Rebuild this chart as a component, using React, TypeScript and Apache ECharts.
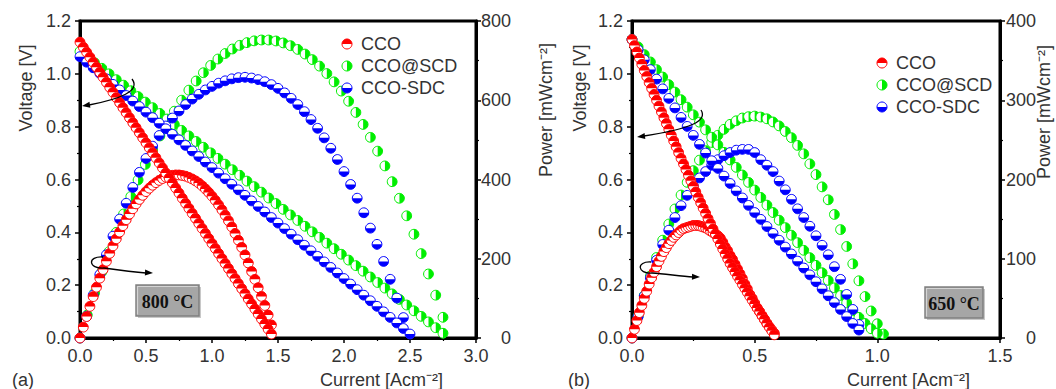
import React, { useEffect, useRef } from "react";
import * as echarts from "echarts";

// ---------- Panel (a) 800 °C ----------
const aRedCurrent = [0,0.025,0.05,0.075,0.1,0.125,0.15,0.175,0.2,0.225,0.25,0.275,0.3,0.325,0.35,0.375,0.4,0.425,0.45,0.475,0.5,0.525,0.55,0.575,0.6,0.625,0.65,0.675,0.7,0.725,0.75,0.775,0.8,0.825,0.85,0.875,0.9,0.925,0.95,0.975,1,1.025,1.05,1.075,1.1,1.125,1.15,1.175,1.2,1.225,1.25,1.275,1.3,1.325,1.35,1.375,1.4,1.425,1.45];
const aRedVoltage = [1.120,1.101,1.082,1.063,1.044,1.025,1.006,0.987,0.968,0.949,0.930,0.910,0.891,0.872,0.853,0.834,0.815,0.796,0.777,0.758,0.739,0.720,0.701,0.682,0.663,0.644,0.625,0.606,0.587,0.568,0.549,0.529,0.510,0.491,0.472,0.453,0.434,0.415,0.396,0.377,0.358,0.339,0.320,0.301,0.282,0.263,0.244,0.225,0.206,0.187,0.168,0.148,0.129,0.110,0.091,0.072,0.053,0.034,0.015];
const aRedPower = [0,27.5,54.1,79.7,104.4,128.1,150.9,172.7,193.6,213.5,232.5,250.3,267.4,283.5,298.6,312.8,326.1,338.4,349.7,360.0,369.5,378.0,385.5,392.0,397.7,402.4,406.0,408.8,410.6,411.5,411.4,410.2,408.3,405.1,401.3,396.6,391.0,384.1,376.2,367.5,358.0,347.5,336.0,323.6,310.0,295.8,280.4,263.9,246.7,228.8,209.5,189.2,167.8,148,127,105,82,58,33];

const aGreenCurrent = [0,0.055,0.11,0.165,0.22,0.275,0.33,0.385,0.44,0.495,0.55,0.605,0.66,0.715,0.77,0.825,0.88,0.935,0.99,1.045,1.1,1.155,1.21,1.265,1.32,1.375,1.43,1.485,1.54,1.595,1.65,1.705,1.76,1.815,1.87,1.925,1.98,2.035,2.09,2.145,2.2,2.255,2.31,2.365,2.42,2.475,2.53,2.585,2.64,2.695,2.75];
const aGreenVoltage = [1.085,1.064,1.042,1.021,1.000,0.978,0.957,0.936,0.914,0.893,0.872,0.850,0.829,0.808,0.786,0.765,0.744,0.722,0.701,0.680,0.658,0.637,0.616,0.594,0.573,0.552,0.530,0.509,0.487,0.466,0.445,0.423,0.402,0.381,0.359,0.338,0.317,0.295,0.274,0.253,0.231,0.210,0.189,0.167,0.146,0.125,0.103,0.082,0.061,0.039,0.018];
const aGreenPower = [0,58.0,113.6,166.9,217.9,266.6,312.9,357.0,398.7,438.0,475.1,509.8,542.2,572.3,600.1,625.5,648.6,669.5,687.9,704.0,717.9,729.4,738.6,745.4,749.9,752.1,752.0,749.6,744.7,737.7,728.3,716.6,702.6,686.1,667.4,646.4,623.1,597.5,569.3,539.0,506.4,471.5,434.3,394.5,352.6,308.4,261.9,213.0,161.6,108.1,52.3];

const aBlueCurrent = [0,0.05,0.1,0.15,0.2,0.25,0.3,0.35,0.4,0.45,0.5,0.55,0.6,0.65,0.7,0.75,0.8,0.85,0.9,0.95,1,1.05,1.1,1.15,1.2,1.25,1.3,1.35,1.4,1.45,1.5,1.55,1.6,1.65,1.7,1.75,1.8,1.85,1.9,1.95,2,2.05,2.1,2.15,2.2,2.25,2.3,2.35,2.4,2.45,2.5];
const aBlueVoltage = [1.065,1.044,1.023,1.002,0.981,0.960,0.939,0.918,0.897,0.876,0.855,0.834,0.813,0.792,0.771,0.750,0.729,0.708,0.687,0.666,0.645,0.624,0.603,0.582,0.561,0.540,0.519,0.498,0.477,0.456,0.435,0.414,0.393,0.372,0.351,0.330,0.309,0.288,0.267,0.246,0.225,0.204,0.183,0.162,0.141,0.120,0.099,0.078,0.057,0.036,0.015];
const aBluePower = [0,55,108,160,210,257,300,340,380,418,453,484,511,535,555,573,589,603,615,626,635,643,649,654,657,658,656,652.1,646.8,639.5,630.0,618.5,604.8,589.1,571.2,551.3,529.2,505.1,478.8,450.5,420.0,387.5,352.8,316.1,277.2,236.3,193.2,148.1,100.8,51.5];

// ---------- Panel (b) 650 °C ----------
const bRedCurrent = [0,0.01,0.02,0.03,0.04,0.05,0.06,0.07,0.08,0.09,0.1,0.11,0.12,0.13,0.14,0.15,0.16,0.17,0.18,0.19,0.2,0.21,0.22,0.23,0.24,0.25,0.26,0.27,0.28,0.29,0.3,0.31,0.32,0.33,0.34,0.35,0.36,0.37,0.38,0.39,0.4,0.41,0.42,0.43,0.44,0.45,0.46,0.47,0.48,0.49,0.5,0.51,0.52,0.53,0.54,0.55,0.56,0.57,0.58];
const bRedVoltage = [1.130,1.107,1.083,1.060,1.036,1.013,0.990,0.967,0.945,0.922,0.900,0.878,0.856,0.834,0.812,0.790,0.768,0.746,0.724,0.702,0.680,0.659,0.638,0.616,0.595,0.574,0.553,0.532,0.512,0.492,0.472,0.452,0.433,0.413,0.394,0.375,0.356,0.337,0.318,0.300,0.282,0.266,0.250,0.234,0.219,0.203,0.188,0.173,0.158,0.143,0.129,0.114,0.100,0.085,0.071,0.056,0.041,0.027,0.012];
const bRedPower = [0,11,22,32,41,50,59,68,76,83,90,97,103,109,114,119,123,127,130,133,136,138,139,140,141,142,142,142,141,140,139,137,135,133,131,129,126,121,115,110,104,99,93,87,81,75,68,62,55,50,44,38,33,28,23,18,14,10,6];

const bGreenCurrent = [0,0.025,0.05,0.075,0.1,0.125,0.15,0.175,0.2,0.225,0.25,0.275,0.3,0.325,0.35,0.375,0.4,0.425,0.45,0.475,0.5,0.525,0.55,0.575,0.6,0.625,0.65,0.675,0.7,0.725,0.75,0.775,0.8,0.825,0.85,0.875,0.9,0.925,0.95,0.975,1,1.025];
const bGreenVoltage = [1.130,1.102,1.073,1.045,1.016,0.988,0.959,0.931,0.902,0.874,0.845,0.817,0.788,0.760,0.731,0.703,0.674,0.646,0.617,0.589,0.560,0.532,0.503,0.475,0.446,0.418,0.389,0.361,0.332,0.304,0.275,0.247,0.218,0.190,0.161,0.133,0.104,0.078,0.055,0.035,0.018];
const bGreenPower = [0,27.5,53.6,78.3,101.6,123.4,143.8,162.8,180.4,196.4,211.2,224.4,236.4,246.7,255.8,263.3,269.6,274.1,277.6,279.3,280.0,278.8,276.6,272.6,267.6,260.6,252.8,243.0,232.4,219.7,206.2,190.7,174.4,155.9,136.8,115.5,93.6,72.2,52.3,34.1,18.0,5];

const bBlueCurrent = [0,0.025,0.05,0.075,0.1,0.125,0.15,0.175,0.2,0.225,0.25,0.275,0.3,0.325,0.35,0.375,0.4,0.425,0.45,0.475,0.5,0.525,0.55,0.575,0.6,0.625,0.65,0.675,0.7,0.725,0.75,0.775,0.8,0.825,0.85,0.875,0.9,0.925];
const bBlueVoltage = [1.130,1.090,1.053,1.016,0.980,0.943,0.907,0.871,0.835,0.801,0.767,0.733,0.700,0.671,0.642,0.613,0.585,0.557,0.530,0.502,0.475,0.449,0.422,0.396,0.370,0.344,0.318,0.291,0.265,0.239,0.213,0.186,0.160,0.134,0.108,0.081,0.055,0.030];
const bBluePower = [0,27,53,76,98,118,136,152,167,180,192,202,210,218,225,230,234,237,238,238,234,225,218,210,198,187,175,163,152,141,129,117,105,90,74,55,36,17];

const seriesNames = ["CCO", "CCO@SCD", "CCO-SDC"];
const seriesColors = ["#ff0000", "#00ee00", "#0000ff"];
const seriesHalves = ["top", "right", "bottom"];

const aVoltTicks = { min: 0, max: 1.2, interval: 0.2 };
const aCurrentTicks = { min: 0, max: 3, interval: 0.5 };
const aPowerTicks = { min: 0, max: 800, interval: 200 };
const bCurrentTicks = { min: 0, max: 1.5, interval: 0.5 };
const bPowerTicks = { min: 0, max: 400, interval: 100 };

const SANS = '"Liberation Sans", Arial, sans-serif';
const SERIF = '"Liberation Serif", "Times New Roman", serif';
const R = 4.9;

const HALF: Record<string, [number, number]> = {
  top: [Math.PI, 2 * Math.PI],
  bottom: [0, Math.PI],
  right: [-Math.PI / 2, Math.PI / 2],
};

function pairs(xs: number[], ys: number[]) {
  const out: number[][] = [];
  for (let i = 0; i < ys.length; i++) out.push([xs[i], ys[i]]);
  return out;
}

function markerSeries(name: string, data: number[][], idx: number, xAxisIndex: number, yAxisIndex: number, z: number) {
  const color = seriesColors[idx];
  const [s, e] = HALF[seriesHalves[idx]];
  return {
    type: "custom",
    name,
    coordinateSystem: "cartesian2d",
    xAxisIndex,
    yAxisIndex,
    data,
    z,
    clip: false,
    renderItem: (_p: any, api: any) => {
      const pt = api.coord([api.value(0), api.value(1)]);
      return {
        type: "group",
        children: [
          { type: "circle", shape: { cx: pt[0], cy: pt[1], r: R }, style: { fill: "#fff", stroke: color, lineWidth: 1 } },
          { type: "sector", shape: { cx: pt[0], cy: pt[1], r0: 0, r: R, startAngle: s, endAngle: e }, style: { fill: color } },
        ],
      };
    },
  };
}

const axisLine = { show: true, onZero: false, lineStyle: { color: "#000", width: 3 } };
const axisTick = { show: true, length: 5, lineStyle: { color: "#000", width: 1.5 } };
const minorTick = { show: true, splitNumber: 2, length: 3, lineStyle: { color: "#000", width: 1.2 } };
const labelBase = { color: "#333", fontSize: 18, fontFamily: SANS };

function xAxis(gridIndex: number, t: any) {
  return {
    type: "value", gridIndex, ...t, axisLine, axisTick, minorTick, splitLine: { show: false },
    axisLabel: { ...labelBase, margin: 9, formatter: (v: number) => v.toFixed(1) },
  };
}
function yLeft(gridIndex: number, t: any) {
  return {
    type: "value", gridIndex, position: "left", ...t, axisLine, axisTick, minorTick, splitLine: { show: false },
    axisLabel: { ...labelBase, margin: 9, formatter: (v: number) => v.toFixed(1) },
  };
}
function yRight(gridIndex: number, t: any, margin: number) {
  return {
    type: "value", gridIndex, position: "right", ...t, axisLine, axisTick, minorTick, splitLine: { show: false },
    axisLabel: { ...labelBase, margin, align: "right", formatter: (v: number) => String(v) },
  };
}

function vText(x: number, y: number, text: string) {
  return {
    type: "text", x, y, rotation: Math.PI / 2, z: 50,
    style: { text, font: `18px ${SANS}`, fill: "#333", align: "center", verticalAlign: "middle", textAlign: "center", textVerticalAlign: "middle" },
  };
}
function hText(x: number, y: number, text: string, align = "left") {
  return {
    type: "text", x, y, z: 50,
    style: { text, font: `18px ${SANS}`, fill: "#333", align, verticalAlign: "middle", textAlign: align, textVerticalAlign: "middle" },
  };
}

function legend(x: number, y0: number, dy: number) {
  const out: any[] = [];
  seriesNames.forEach((n, i) => {
    const y = y0 + i * dy;
    const [s, e] = HALF[seriesHalves[i]];
    out.push({ type: "circle", z: 50, shape: { cx: x, cy: y, r: 5 }, style: { fill: "#fff", stroke: seriesColors[i], lineWidth: 1 } });
    out.push({ type: "sector", z: 50, shape: { cx: x, cy: y, r0: 0, r: 5, startAngle: s, endAngle: e }, style: { fill: seriesColors[i] } });
    out.push(hText(x + 14, y, n));
  });
  return out;
}

function tempBox(x: number, y: number, w: number, h: number, text: string) {
  return [
    { type: "rect", z: 50, shape: { x: x + 2, y: y + 2, width: w, height: h }, style: { fill: "#c8c8c8" } },
    { type: "rect", z: 51, shape: { x, y, width: w, height: h }, style: { fill: "#a6a6a6", stroke: "#808080", lineWidth: 1.5 } },
    { type: "polyline", z: 52, shape: { points: [[x + 1.5, y + h - 1.5], [x + 1.5, y + 1.5], [x + w - 1.5, y + 1.5]] }, style: { stroke: "#d4d4d4", lineWidth: 1.2, fill: null } },
    {
      type: "text", z: 53, x: x + w / 2, y: y + h / 2 + 1,
      style: { text, font: `bold 18px ${SERIF}`, fill: "#111", align: "center", verticalAlign: "middle", textAlign: "center", textVerticalAlign: "middle" },
    },
  ];
}

function arrowHead(tx: number, ty: number, dx: number, dy: number) {
  const len = Math.hypot(dx, dy);
  const ux = dx / len, uy = dy / len;
  const L = 8, W = 3;
  return {
    type: "polygon", z: 55,
    shape: { points: [[tx, ty], [tx - L * ux - W * uy, ty - L * uy + W * ux], [tx - L * ux + W * uy, ty - L * uy - W * ux]] },
    style: { fill: "#000" },
  };
}
function curve(x1: number, y1: number, c1x: number, c1y: number, c2x: number, c2y: number, x2: number, y2: number) {
  return {
    type: "bezierCurve", z: 55,
    shape: { x1, y1, cpx1: c1x, cpy1: c1y, cpx2: c2x, cpy2: c2y, x2, y2 },
    style: { stroke: "#000", lineWidth: 1.3, fill: null },
  };
}

export default function App() {
  const ref = useRef<HTMLDivElement>(null);
  useEffect(() => {
    if (!ref.current) return;
    const chart = echarts.init(ref.current, null, { renderer: "svg" });
    const gridA = { left: 80, top: 21, width: 396, height: 317 };
    const gridB = { left: 632, top: 21, width: 368, height: 317 };
    const series: any[] = [];
    let z = 2;
    const panels = [
      { x: 0, yv: 0, yp: 1, sets: [
        [aRedCurrent, aRedVoltage, aRedPower],
        [aGreenCurrent, aGreenVoltage, aGreenPower],
        [aBlueCurrent, aBlueVoltage, aBluePower],
      ] },
      { x: 1, yv: 2, yp: 3, sets: [
        [bRedCurrent, bRedVoltage, bRedPower],
        [bGreenCurrent, bGreenVoltage, bGreenPower],
        [bBlueCurrent, bBlueVoltage, bBluePower],
      ] },
    ];
    panels.forEach((p) => {
      [1, 2, 0].forEach((i) => {
        const [cur, volt, pow] = p.sets[i];
        series.push(markerSeries(seriesNames[i], pairs(cur, pow), i, p.x, p.yp, z++));
        series.push(markerSeries(seriesNames[i], pairs(cur, volt), i, p.x, p.yv, z++));
      });
    });

    const graphic: any[] = [
      vText(26, 88, "Voltage [V]"),
      vText(546, 110, "Power [mWcm\u207B\u00B2]"),
      vText(580, 88, "Voltage [V]"),
      vText(1044, 112, "Power [mWcm\u207B\u00B2]"),
      hText(320, 380, "Current [Acm\u207B\u00B2]"),
      hText(847, 380, "Current [Acm\u207B\u00B2]"),
      hText(12, 380, "(a)"),
      hText(568, 380, "(b)"),
      ...legend(347, 44, 22),
      ...legend(882, 63, 22),
      ...tempBox(136, 285, 63, 31, "800 \u00B0C"),
      ...tempBox(925, 287, 58, 31, "650 \u00B0C"),
      curve(132, 79, 141, 91, 120, 99, 89, 105),
      arrowHead(82, 106, -1, 0.15),
      curve(103, 257, 87, 256, 88, 269, 104, 268),
      curve(104, 268, 118, 270, 132, 272, 146, 273),
      arrowHead(153, 273, 1, 0.05),
      curve(701, 110, 708, 121, 690, 129, 644, 136),
      arrowHead(637, 137, -1, 0.13),
      curve(651, 262, 636, 261, 637, 274, 652, 273),
      curve(652, 273, 665, 274, 680, 276, 693, 277),
      arrowHead(700, 277, 1, 0.03),
    ];

    chart.setOption({
      animation: false,
      backgroundColor: "#fff",
      grid: [
        { ...gridA, show: true, borderColor: "#000", borderWidth: 3, backgroundColor: "transparent" },
        { ...gridB, show: true, borderColor: "#000", borderWidth: 3, backgroundColor: "transparent" },
      ],
      xAxis: [xAxis(0, aCurrentTicks), xAxis(1, bCurrentTicks)],
      yAxis: [yLeft(0, aVoltTicks), yRight(0, aPowerTicks, 35), yLeft(1, aVoltTicks), yRight(1, bPowerTicks, 36)],
      series,
      graphic,
    });
    return () => chart.dispose();
  }, []);
  return <div ref={ref} style={{ position: "fixed", left: 0, top: 0, width: 1056, height: 389 }} />;
}
